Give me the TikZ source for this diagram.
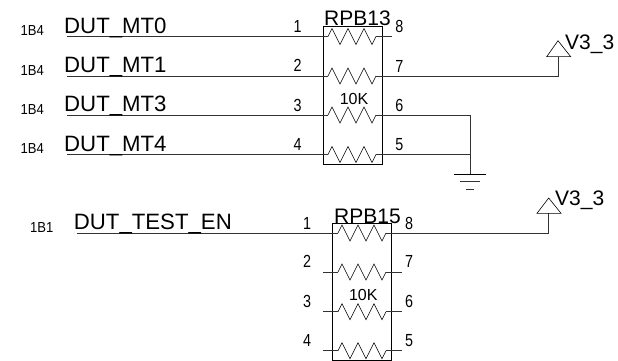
\documentclass[tikz,border=0pt]{standalone}
\usepackage{fontspec}
\setmainfont{Liberation Sans}
\newcommand{\pinnum}[1]{\scalebox{.82}[1]{#1}}
\newcommand{\sheetref}[1]{\scalebox{.9}[1]{#1}}
\tikzset{
  wire/.style={line width=0.75pt,color=black!80},
  thin wire/.style={line width=0.6pt,color=black},
  netlab/.style={anchor=base west,inner sep=0pt,font=\fontsize{22.2}{22}\selectfont},
  reflab/.style={anchor=base west,inner sep=0pt,font=\fontsize{21}{21}\selectfont},
  sheetlab/.style={anchor=base west,inner sep=0pt,font=\fontsize{14.5}{14}\selectfont},
  pinlab/.style={anchor=base,inner sep=0pt,font=\fontsize{17.5}{17}\selectfont},
  vallab/.style={anchor=base,inner sep=0pt,font=\fontsize{16}{16}\selectfont},
  pics/zig/.style={code={
    \coordinate (-l) at (0,0);
    \coordinate (-r) at (48,0);
    \draw[thin wire] (-l) -- (4,-8) -- (12,8) -- (20,-8) -- (28,8) -- (36,-8) -- (44,8) -- (-r);
  }}
}
\begin{document}
\begin{tikzpicture}[x=1pt,y=-1pt]
\useasboundingbox[fill=white] (0,0) rectangle (618,361);

% ---- upper pack ----
\node[draw,thin wire,minimum width=59pt,minimum height=138pt,inner sep=0pt,anchor=north west] (boxa) at (322.7,26) {};
\pic (za) at (328,36.5) {zig};
\pic (zb) at (328,76) {zig};
\pic (zc) at (328,115) {zig};
\pic (zd) at (328,154.5) {zig};

\coordinate (ia) at (67,36.5);
\coordinate (ib) at (67,76);
\coordinate (ic) at (67,115);
\coordinate (id) at (67,154.5);
\coordinate (oa) at (392,36.5);
\coordinate (vb) at (558,76);
\coordinate (vbt) at (558,56.7);
\coordinate (gc) at (470,115);
\coordinate (gd) at (470,154.5);
\coordinate (gt) at (470,174);

\draw[wire] (ia) -- (za-l);
\draw[wire] (ib) -- (zb-l);
\draw[wire] (ic) -- (zc-l);
\draw[wire] (id) -- (zd-l);
\draw[wire] (za-r) -- (oa);
\draw[wire] (zb-r) -- (vb) -- (vbt);
\draw[wire] (zc-r) -- (gc) -- (gd);
\draw[wire] (zd-r) -- (gd) -- (gt);

% supply symbol
\draw[thin wire] (546.7,56.7) -- (558,40.7) -- (570.7,56.7) -- cycle;
% ground
\draw[thin wire] (454,174) -- (485.7,174);
\draw[wire] (460,181.7) -- (480,181.7);
\draw[wire] (466,189.7) -- (474,189.7);

\node[netlab] (na) at (64,33.3) {DUT\_MT0};
\node[netlab] (nb) at (64,72) {DUT\_MT1};
\node[netlab] (nc) at (64,111.7) {DUT\_MT3};
\node[netlab] (nd) at (64,151) {DUT\_MT4};
\node[sheetlab] (sa) at (20.5,36) {\sheetref{1B4}};
\node[sheetlab] (sb) at (20.5,75.3) {\sheetref{1B4}};
\node[sheetlab] (sc) at (20.5,114.7) {\sheetref{1B4}};
\node[sheetlab] (sd) at (20.5,153.3) {\sheetref{1B4}};
\node[pinlab] (p1) at (297.7,32.3) {\pinnum{1}};
\node[pinlab] (p2) at (297.7,71.5) {\pinnum{2}};
\node[pinlab] (p3) at (297.7,111) {\pinnum{3}};
\node[pinlab] (p4) at (297.7,150.3) {\pinnum{4}};
\node[pinlab] (p8) at (399.3,32.7) {\pinnum{8}};
\node[pinlab] (p7) at (399.3,72) {\pinnum{7}};
\node[pinlab] (p6) at (399.3,111) {\pinnum{6}};
\node[pinlab] (p5) at (399.3,150) {\pinnum{5}};
\node[reflab] (ra) at (324,26) {RPB13};
\node[vallab] (va) at (354,104) {10K};
\node[reflab] (pwa) at (565,49) {V3\_3};

% ---- lower pack ----
\node[draw,thin wire,minimum width=59pt,minimum height=136.7pt,inner sep=0pt,anchor=north west] (boxb) at (332.3,223.3) {};
\pic (ze) at (338,233) {zig};
\pic (zf) at (338,272) {zig};
\pic (zg) at (338,311.7) {zig};
\pic (zh) at (338,350.7) {zig};

\coordinate (ie) at (77,233);
\coordinate (if) at (322.7,272);
\coordinate (ig) at (322.7,311.7);
\coordinate (ih) at (322.7,350.7);
\coordinate (ve) at (548.7,233);
\coordinate (vet) at (548.7,213.3);
\coordinate (of) at (401.5,272);
\coordinate (og) at (401.5,311.7);
\coordinate (oh) at (401.5,350.7);

\draw[wire] (ie) -- (ze-l);
\draw[wire] (if) -- (zf-l);
\draw[wire] (ig) -- (zg-l);
\draw[wire] (ih) -- (zh-l);
\draw[wire] (ze-r) -- (ve) -- (vet);
\draw[wire] (zf-r) -- (of);
\draw[wire] (zg-r) -- (og);
\draw[wire] (zh-r) -- (oh);

\draw[thin wire] (537,213.3) -- (548.7,198) -- (561,213.3) -- cycle;

\node[netlab] (ne) at (73.7,229.3) {DUT\_TEST\_EN};
\node[sheetlab] (se) at (30,232.7) {\sheetref{1B1}};
\node[pinlab] (q1) at (307,229) {\pinnum{1}};
\node[pinlab] (q2) at (307,267.7) {\pinnum{2}};
\node[pinlab] (q3) at (307,307.3) {\pinnum{3}};
\node[pinlab] (q4) at (307,346.7) {\pinnum{4}};
\node[pinlab] (q8) at (409,229) {\pinnum{8}};
\node[pinlab] (q7) at (409,267.7) {\pinnum{7}};
\node[pinlab] (q6) at (409,307.3) {\pinnum{6}};
\node[pinlab] (q5) at (409,346.7) {\pinnum{5}};
\node[reflab] (rb) at (334,223.3) {RPB15};
\node[vallab] (vb2) at (363.3,300.7) {10K};
\node[reflab] (pwb) at (555,205.7) {V3\_3};
\end{tikzpicture}
\end{document}
